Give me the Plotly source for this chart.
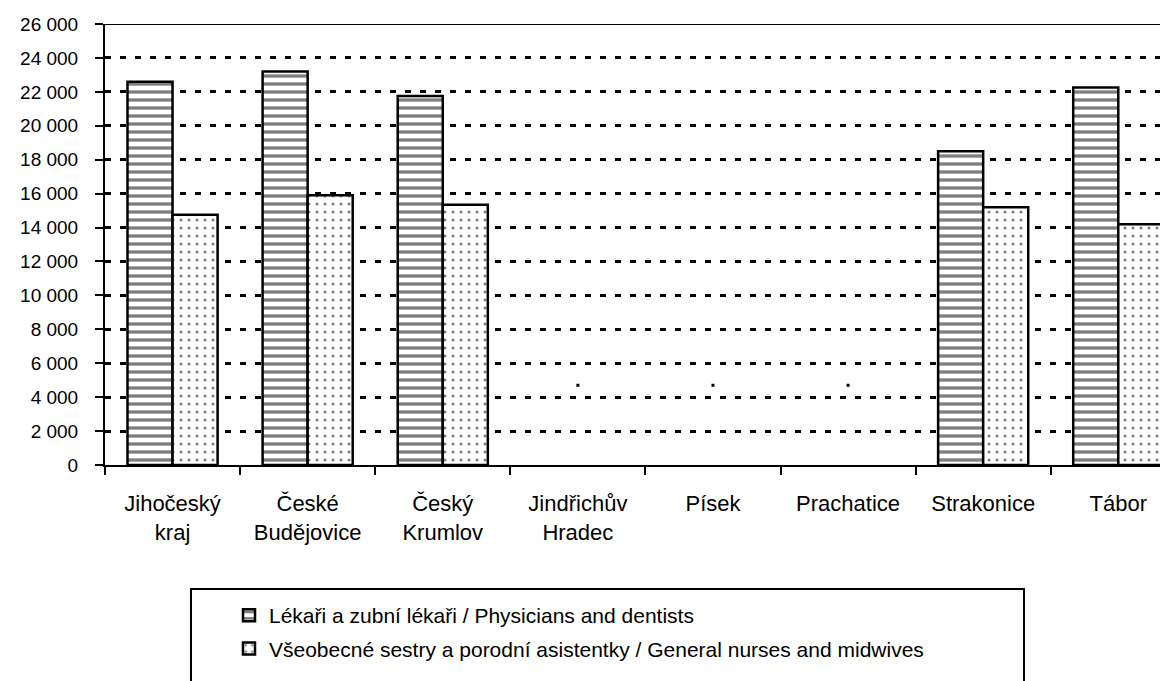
import plotly.graph_objects as go

categories = ["Jihočeský<br>kraj", "České<br>Budějovice", "Český<br>Krumlov", "Jindřichův<br>Hradec",
              "Písek", "Prachatice", "Strakonice", "Tábor"]
physicians = [22600, 23200, 21750, None, None, None, 18500, 22250]
nurses = [14750, 15900, 15350, None, None, None, 15200, 14200]
missing_cats = ["Jindřichův<br>Hradec", "Písek", "Prachatice"]
missing_label_y = [4700, 4700, 4700]
name_phys = "Lékaři a zubní lékaři / Physicians and dentists"
name_nurse = "Všeobecné sestry a porodní asistentky / General nurses and midwives"
yticks = list(range(0, 26001, 2000))

FONT = "Liberation Sans, Arial, sans-serif"
OFF = 8  # default page body margin
W, H = 1168 - OFF, 681 - OFF
L, T = 105 - OFF, 24 - OFF
B = 681 - 465
R = 0
pw, ph = W - L - R, H - T - B

def px_x(x):  # reference page px -> paper
    return (x - OFF - L) / pw

def px_y(y):
    return 1 - (y - OFF - T) / ph

fig = go.Figure()
fig.add_trace(go.Bar(
    x=categories, y=physicians, name=name_phys, legendgroup="a",
    marker=dict(color="white", line=dict(color="black", width=2.5),
                pattern=dict(shape="-", size=8, solidity=0.42, fgcolor="black", bgcolor="white")),
))
fig.add_trace(go.Bar(
    x=categories, y=nurses, name=name_nurse, legendgroup="b",
    marker=dict(color="white", line=dict(color="black", width=2.5),
                pattern=dict(shape=".", size=8, solidity=0.12, fgcolor="black", bgcolor="white")),
))
fig.add_trace(go.Scatter(
    x=missing_cats, y=missing_label_y, mode="markers", showlegend=False,
    marker=dict(symbol="square", size=3, color="black"), hoverinfo="skip",
))

fig.update_layout(
    width=W, height=H,
    margin=dict(l=L, r=R, t=T, b=B, pad=0),
    plot_bgcolor="white", paper_bgcolor="white",
    font=dict(family=FONT, size=19, color="black"),
    separators=", ",
    barmode="group", bargap=0.333, bargroupgap=0,
    showlegend=True,
    legend=dict(
        x=px_x(229), y=px_y(595), xanchor="left", yanchor="top",
        font=dict(family=FONT, size=21, color="black"),
        bgcolor="rgba(0,0,0,0)", borderwidth=0,
        traceorder="grouped", tracegroupgap=3,
    ),
    xaxis=dict(
        range=[-0.5, 7.368], showline=True, linecolor="black", linewidth=2,
        ticks="outside", tickson="boundaries", ticklen=8, tickwidth=2, tickcolor="black",
        tickfont=dict(family=FONT, size=22), ticklabelstandoff=18,
        showgrid=False, fixedrange=True,
    ),
    yaxis=dict(
        range=[0, 26000], tickvals=yticks, tickformat=",d",
        showline=True, linecolor="black", linewidth=2,
        ticks="outside", ticklen=8, tickwidth=2, tickcolor="black",
        tickfont=dict(family=FONT, size=19), ticklabelstandoff=13,
        showgrid=True, gridcolor="black", gridwidth=2.5, griddash="6px,9px",
        zeroline=False, fixedrange=True,
    ),
    shapes=[
        dict(type="line", xref="paper", yref="y", x0=0, x1=1, y0=26000, y1=26000,
             line=dict(color="black", width=2)),
        dict(type="rect", xref="paper", yref="paper",
             x0=px_x(191), x1=px_x(1024), y0=px_y(720), y1=px_y(589),
             line=dict(color="black", width=2), fillcolor="rgba(0,0,0,0)"),
    ],
)

fig.write_html("out.html")
